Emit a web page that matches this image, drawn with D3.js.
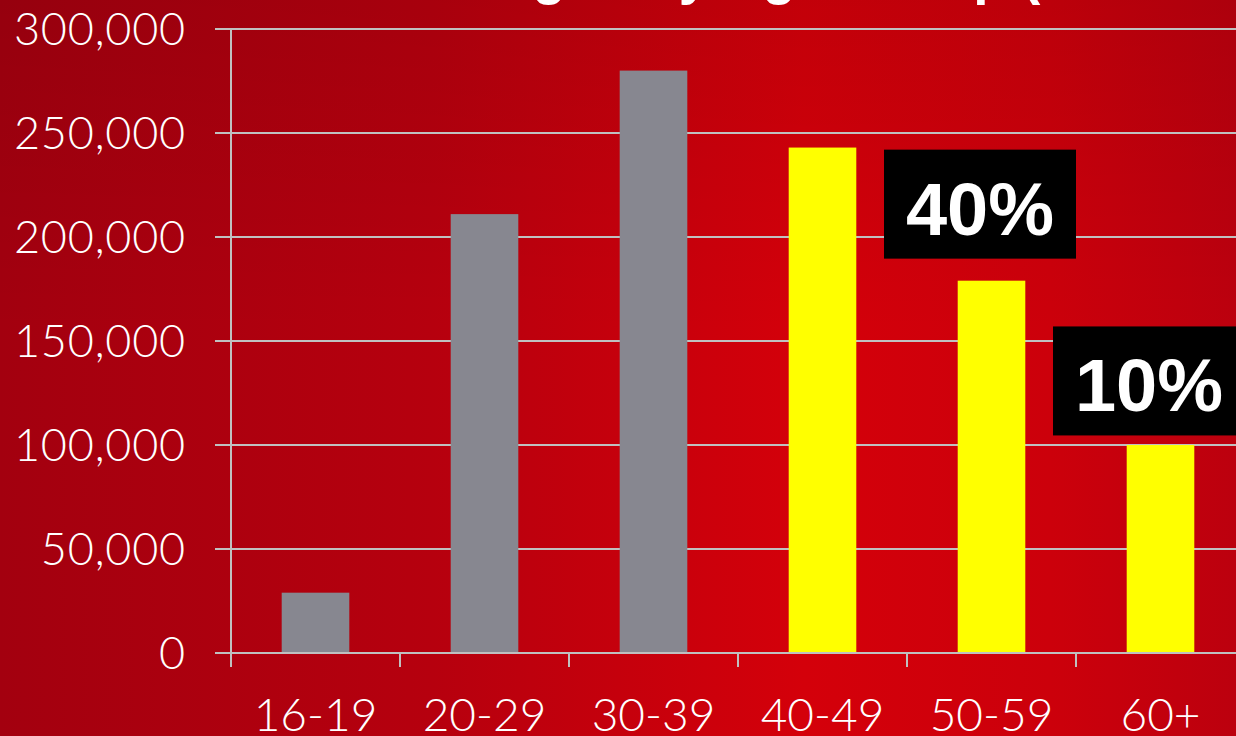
<!DOCTYPE html>
<html>
<head>
<meta charset="utf-8">
<script src="https://cdn.jsdelivr.net/npm/d3@7"></script>
<style>
  html, body { margin: 0; padding: 0; background: #b0000e; overflow: hidden; }
  svg { display: block; }
</style>
</head>
<body>
<svg id="chart" width="1236" height="736"></svg>
<script>
// Drivers by age group
const categories = ["16-19", "20-29", "30-39", "40-49", "50-59", "60+"];
const drivers = [29000, 211000, 280000, 243000, 179000, 100000];
const highlighted = [false, false, false, true, true, true];
const yTicks = [0, 50000, 100000, 150000, 200000, 250000, 300000];
const titleText = "Drivers Charged by Age Group (2011–2012)";
// Share callouts, anchored to a category band; level is the box's top edge
const calloutText = ["40%", "10%"];
const calloutAnchor = ["50-59", "60+"];
const calloutLevel = [242000, 157000];

const W = 1236, H = 736;
const margin = { left: 231, top: 29, bottom: 653 };
const step = 169;

const svg = d3.select("#chart");
const defs = svg.append("defs");

// Background: red gradient, darker toward the left and top
const bg = defs.append("linearGradient").attr("id", "bgH")
  .attr("x1", "0%").attr("y1", "0%").attr("x2", "100%").attr("y2", "0%");
bg.append("stop").attr("offset", "0%").attr("stop-color", "#a3000f");
bg.append("stop").attr("offset", "35%").attr("stop-color", "#b6000e");
bg.append("stop").attr("offset", "65%").attr("stop-color", "#d4000a");
bg.append("stop").attr("offset", "85%").attr("stop-color", "#cc000b");
bg.append("stop").attr("offset", "100%").attr("stop-color", "#bc000e");
const shade = defs.append("linearGradient").attr("id", "bgV")
  .attr("x1", "0%").attr("y1", "0%").attr("x2", "0%").attr("y2", "100%");
shade.append("stop").attr("offset", "0%").attr("stop-color", "#000").attr("stop-opacity", 0.08);
shade.append("stop").attr("offset", "45%").attr("stop-color", "#000").attr("stop-opacity", 0);

svg.append("rect").attr("width", W).attr("height", H).attr("fill", "url(#bgH)");
svg.append("rect").attr("width", W).attr("height", H).attr("fill", "url(#bgV)");

// Title sits above the visible frame; only the descenders reach in
const title = svg.append("text")
  .attr("x", 202).attr("y", 0)
  .attr("text-anchor", "start")
  .attr("font-family", "Liberation Sans, Arial, sans-serif")
  .attr("font-weight", "bold")
  .attr("font-size", 55)
  .attr("fill", "#ffffff")
  .text(titleText);
const tb = title.node().getBBox();
const descent = tb.y + tb.height;   // baseline to bottom of the line box
title.attr("y", 5 - descent);

const x = d3.scaleBand()
  .domain(categories)
  .range([margin.left, margin.left + step * categories.length])
  .paddingInner(0.6)
  .paddingOuter(0.3);

const y = d3.scaleLinear()
  .domain([0, 300000])
  .range([margin.bottom, margin.top]);

const gridColor = "#c0c0c0";
const plotRight = margin.left + step * categories.length;

// Horizontal gridlines with short stubs left of the axis
svg.append("g").selectAll("line").data(yTicks).join("line")
  .attr("x1", margin.left - 16).attr("x2", plotRight)
  .attr("y1", d => y(d)).attr("y2", d => y(d))
  .attr("stroke", gridColor).attr("stroke-width", 2);

// Y axis line
svg.append("line")
  .attr("x1", margin.left).attr("x2", margin.left)
  .attr("y1", y(300000)).attr("y2", y(0) + 14)
  .attr("stroke", gridColor).attr("stroke-width", 2);

// Y tick labels
const fmt = d3.format(",");
svg.append("g").selectAll("text").data(yTicks).join("text")
  .attr("x", 186).attr("y", d => y(d))
  .attr("dy", "0.36em")
  .attr("text-anchor", "end")
  .attr("font-family", "Lato, 'Open Sans', sans-serif")
  .attr("font-weight", 300)
  .attr("font-size", 45)
  .attr("letter-spacing", 0.8)
  .attr("fill", "#ffffff")
  .text(d => fmt(d));

// Category boundary ticks below the baseline
const boundaries = categories.map(c => x(c) - (x.step() - x.bandwidth()) / 2);
svg.append("g").selectAll("line").data(boundaries).join("line")
  .attr("x1", d => d).attr("x2", d => d)
  .attr("y1", y(0)).attr("y2", y(0) + 14)
  .attr("stroke", gridColor).attr("stroke-width", 2);

// Bars
svg.append("g").selectAll("rect").data(categories).join("rect")
  .attr("x", d => x(d))
  .attr("width", x.bandwidth())
  .attr("y", (d, i) => y(drivers[i]))
  .attr("height", (d, i) => y(0) - y(drivers[i]))
  .attr("fill", (d, i) => highlighted[i] ? "#ffff00" : "#878790");

// Redraw the baseline over the bars
svg.append("line")
  .attr("x1", margin.left - 16).attr("x2", plotRight)
  .attr("y1", y(0)).attr("y2", y(0))
  .attr("stroke", gridColor).attr("stroke-width", 2);

// X labels
svg.append("g").selectAll("text").data(categories).join("text")
  .attr("x", d => x(d) + x.bandwidth() / 2)
  .attr("y", 731)
  .attr("text-anchor", "middle")
  .attr("font-family", "Lato, 'Open Sans', sans-serif")
  .attr("font-weight", 300)
  .attr("font-size", 46)
  .attr("fill", "#ffffff")
  .text(d => d);

// Callouts: white bold text on black boxes
const boxW = 192, boxH = 109;
const callouts = svg.append("g").selectAll("g").data(calloutText).join("g")
  .attr("transform", (d, i) => {
    const left = x(calloutAnchor[i]) - (x.step() - x.bandwidth()) / 2;
    return `translate(${left - 23},${y(calloutLevel[i])})`;
  });
callouts.append("rect")
  .attr("width", boxW).attr("height", boxH)
  .attr("fill", "#000000");
callouts.append("text")
  .attr("x", boxW / 2).attr("y", 85)
  .attr("text-anchor", "middle")
  .attr("font-family", "Liberation Sans, Arial, sans-serif")
  .attr("font-weight", "bold")
  .attr("font-size", 74)
  .attr("fill", "#ffffff")
  .text(d => d);
</script>
</body>
</html>
